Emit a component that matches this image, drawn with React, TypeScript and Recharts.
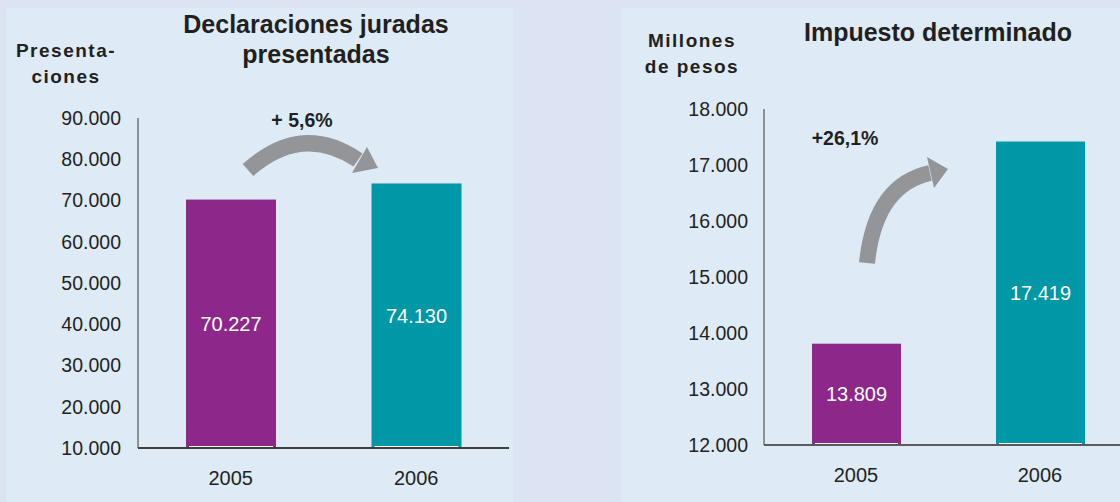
import { BarChart, Bar, XAxis, YAxis, Cell, LabelList } from "recharts";

const years = ["2005", "2006"];
const declaraciones = [70227, 74130];
const impuesto = [13809, 17419];
const declTicks = [10000, 20000, 30000, 40000, 50000, 60000, 70000, 80000, 90000];
const impTicks = [12000, 13000, 14000, 15000, 16000, 17000, 18000];

const FONT = "'Liberation Sans', Arial, sans-serif";
const barColors = ["#8E278A", "#0097A6"];
const ink = "#231F20";
const arrowGray = "#939598";

function fmt(v: unknown): string {
  return String(v).replace(/\B(?=(\d{3})+(?!\d))/g, ".");
}

const declData = years.map((year, i) => ({ year, value: declaraciones[i] }));
const impData = years.map((year, i) => ({ year, value: impuesto[i] }));

function BarShape(props: any) {
  const { x, y, width, height, index } = props;
  return (
    <g>
      <rect x={x} y={y} width={width} height={height} fill={barColors[index]} />
      <line x1={x + 3} x2={x + width - 3} y1={y + height - 1.5} y2={y + height - 1.5} stroke="#fff" strokeWidth={1} />
    </g>
  );
}

const panel: React.CSSProperties = { position: "absolute", top: 8, height: 494, background: "#DEEBF7", overflow: "hidden" };
const overlay: React.CSSProperties = { position: "absolute", left: 0, top: 0, pointerEvents: "none" };

export default function App() {
  return (
    <div style={{ position: "relative", width: 1120, height: 502, background: "#DCE3F2", overflow: "hidden", fontFamily: FONT }}>
      <style>{"body{margin:0}"}</style>

      {/* left panel */}
      <div style={{ ...panel, left: 6, width: 507 }}>
        <BarChart width={507} height={494} data={declData} margin={{ top: 110, right: 4, left: 72, bottom: 24 }}>
          <XAxis dataKey="year" height={30} tickLine={false} tickSize={6} tickMargin={17}
            axisLine={{ stroke: "#3E3E3E", strokeWidth: 2 }} tick={{ fill: ink, fontSize: 20, fontFamily: FONT }} />
          <YAxis type="number" width={60} domain={[10000, 90000]} ticks={declTicks} interval={0} tickLine={false}
            tickSize={6} tickMargin={11} tickFormatter={fmt} axisLine={{ stroke: "#555", strokeWidth: 1.2 }}
            tick={{ fill: ink, fontSize: 19.5, fontFamily: FONT }} />
          <Bar dataKey="value" barSize={90} shape={BarShape} isAnimationActive={false}>
            {declData.map((d, i) => <Cell key={d.year} fill={barColors[i]} />)}
            <LabelList dataKey="value" position="center" formatter={fmt} fill="#fff" fontSize={20} fontFamily={FONT} />
          </Bar>
        </BarChart>
        <svg width={507} height={494} style={overlay}>
          <g fontFamily={FONT} fontWeight="bold" fill={ink}>
            <text x={310} y={25} fontSize={25} textAnchor="middle">Declaraciones juradas</text>
            <text x={310} y={55} fontSize={25} textAnchor="middle">presentadas</text>
            <text x={60} y={49} fontSize={19} letterSpacing={1.5} textAnchor="middle">Presenta-</text>
            <text x={60} y={75} fontSize={19} letterSpacing={1.5} textAnchor="middle">ciones</text>
            <text x={296} y={119} fontSize={19.5} textAnchor="middle">+ 5,6%</text>
          </g>
          <path d="M 242 162 Q 296 114 352 152" fill="none" stroke={arrowGray} strokeWidth={16} />
          <polygon points="361,139 372,160 346,165" fill={arrowGray} />
        </svg>
      </div>

      {/* right panel */}
      <div style={{ ...panel, left: 621, width: 499 }}>
        <BarChart width={520} height={494} data={impData} margin={{ top: 101, right: 9, left: 83, bottom: 27 }}>
          <XAxis dataKey="year" height={30} tickLine={false} tickSize={6} tickMargin={17}
            axisLine={{ stroke: "#5A5A5A", strokeWidth: 2 }} tick={{ fill: ink, fontSize: 20, fontFamily: FONT }} />
          <YAxis type="number" width={60} domain={[12000, 18000]} ticks={impTicks} interval={0} tickLine={false}
            tickSize={6} tickMargin={10} tickFormatter={fmt} axisLine={{ stroke: "#555", strokeWidth: 1.2 }}
            tick={{ fill: ink, fontSize: 19.5, fontFamily: FONT }} />
          <Bar dataKey="value" barSize={89} shape={BarShape} isAnimationActive={false}>
            {impData.map((d, i) => <Cell key={d.year} fill={barColors[i]} />)}
            <LabelList dataKey="value" position="center" formatter={fmt} fill="#fff" fontSize={20} fontFamily={FONT} />
          </Bar>
        </BarChart>
        <svg width={499} height={494} style={overlay}>
          <g fontFamily={FONT} fontWeight="bold" fill={ink}>
            <text x={317} y={33} fontSize={25} textAnchor="middle">Impuesto determinado</text>
            <text x={71} y={39} fontSize={19} letterSpacing={1.5} textAnchor="middle">Millones</text>
            <text x={71} y={65} fontSize={19} letterSpacing={1.5} textAnchor="middle">de pesos</text>
            <text x={224} y={137} fontSize={19.5} textAnchor="middle">+26,1%</text>
          </g>
          <path d="M 246 255 Q 254 177 309 165" fill="none" stroke={arrowGray} strokeWidth={16} />
          <polygon points="306,149 327,161 313,180" fill={arrowGray} />
        </svg>
      </div>
    </div>
  );
}
